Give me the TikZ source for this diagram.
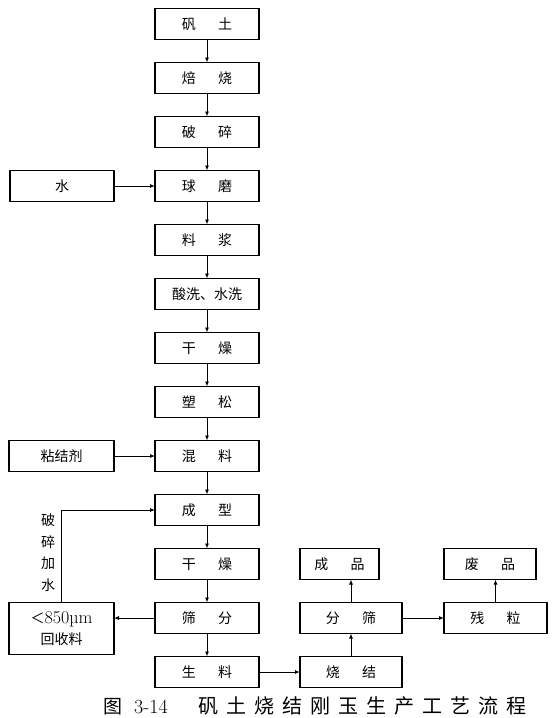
\documentclass[tikz,border=0pt]{standalone}
\usepackage{fontspec}
\newfontfamily\cjk{Noto Sans CJK SC}
\newfontfamily\capfont[LetterSpace=40]{Noto Sans CJK SC}
\usetikzlibrary{positioning,arrows.meta}
\newcommand{\cgap}{\hspace{1.6em}}

\begin{document}
\begin{tikzpicture}[
    x=1pt, y=-1pt,
    node distance=23pt and 41pt,
    box/.style={draw, line width=1.3pt, align=center, minimum width=104pt, minimum height=31pt, inner sep=0pt, outer sep=0pt, font=\cjk\fontsize{14}{17}\selectfont},
    arrow/.style={-{Latex[length=5pt,width=4pt]}, line width=0.9pt},
    sidelabel/.style={align=center, inner sep=0pt, font=\cjk\fontsize{14}{21.5}\selectfont}
]
\useasboundingbox (0,0) rectangle (554,718);

\node[box] (bauxite) at (207,24) {矾\cgap 土};
\node[box, below=of bauxite] (roast) {焙\cgap 烧};
\node[box, below=of roast] (crush) {破\cgap 碎};
\node[box, below=of crush] (mill) {球\cgap 磨};
\node[box, below=of mill] (slurry) {料\cgap 浆};
\node[box, below=of slurry] (wash) {酸洗、水洗};
\node[box, below=of wash] (dryA) {干\cgap 燥};
\node[box, below=of dryA] (loosen) {塑\cgap 松};
\node[box, below=of loosen] (mix) {混\cgap 料};
\node[box, below=of mix] (form) {成\cgap 型};
\node[box, below=of form] (dryB) {干\cgap 燥};
\node[box, below=of dryB] (sieve) {筛\cgap 分};
\node[box, below=of sieve] (raw) {生\cgap 料};

\node[box, left=of mill] (water) {水};
\node[box, minimum width=105pt, left=of mix] (binder) {粘结剂};
\node[box, minimum width=105pt, minimum height=52pt, font=\cjk\fontsize{14}{21}\selectfont,
      left=41pt of sieve.north west, anchor=north east] (recycle) {＜{\rmfamily\fontsize{18}{21}\selectfont 850µm}\\回收料};

\node[box, minimum width=102pt, right=of raw] (sinter) {烧\cgap 结};
\node[box, minimum width=102pt, above=of sinter] (grade) {分\cgap 筛};
\node[box, minimum width=79pt, above=of grade.north west, anchor=south west] (product) {成\cgap 品};
\node[box, minimum width=103pt, right=42pt of grade] (residue) {残\cgap 粒};
\node[box, minimum width=92pt, above=of residue.north west, anchor=south west] (waste) {废\cgap 品};

\node[anchor=west, inner sep=0pt, font=\cjk\fontsize{19}{22}\selectfont] (caption) at (103,706)
  {图\hspace{12pt}{\rmfamily\fontsize{20}{22}\selectfont 3-14}\hspace{31pt}{\capfont\fontsize{20}{22}\selectfont 矾土烧结刚玉生产工艺流程}};

\foreach \a/\b in {bauxite/roast, roast/crush, crush/mill, mill/slurry, slurry/wash, wash/dryA,
                   dryA/loosen, loosen/mix, mix/form, form/dryB, dryB/sieve, sieve/raw}
  \draw[arrow] (\a) -- (\b);
\draw[arrow] (water) -- (mill);
\draw[arrow] (binder) -- (mix);
\draw[arrow] (sieve.west) -- (sieve.west -| recycle.east);
\draw[arrow] (recycle.north) |- node[pos=0.27, left=6pt, sidelabel] {破\\碎\\加\\水} (form.west);
\draw[arrow] (raw) -- (sinter);
\draw[arrow] (sinter) -- (grade);
\draw[arrow] (grade.north) -- (grade.north |- product.south);
\draw[arrow] (grade) -- (residue);
\draw[arrow] (residue.north) -- (residue.north |- waste.south);
\end{tikzpicture}
\end{document}
